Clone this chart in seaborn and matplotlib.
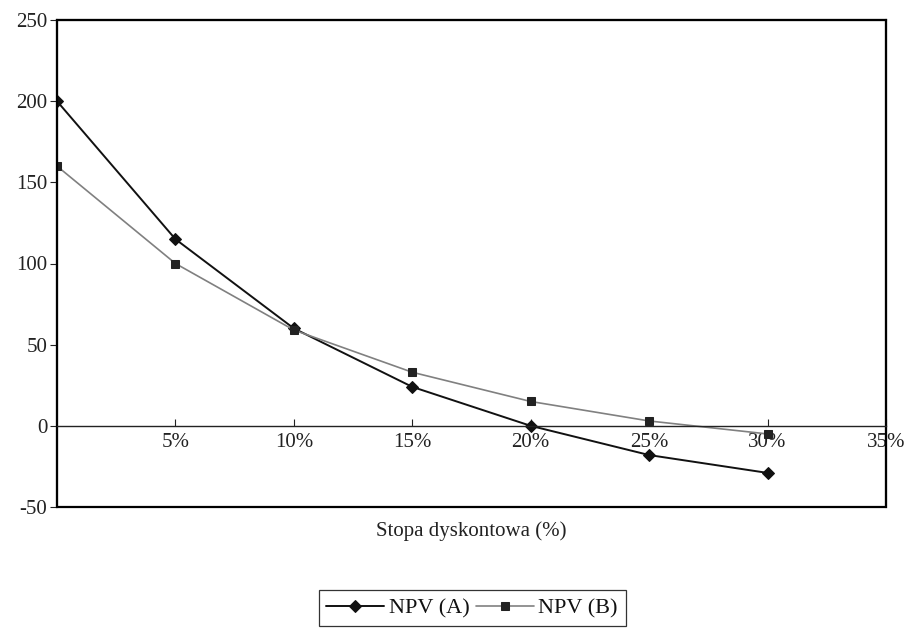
import pandas as pd
import matplotlib
matplotlib.use("Agg")
import matplotlib.pyplot as plt
import seaborn as sns

# data
rates = [0, 5, 10, 15, 20, 25, 30]
npv_a = [200, 115, 60, 24, 0, -18, -29]
npv_b = [160, 100, 59, 33, 15, 3, -5]
x_ticks = [5, 10, 15, 20, 25, 30, 35]
x_labels = ["5%", "10%", "15%", "20%", "25%", "30%", "35%"]
y_ticks = [-50, 0, 50, 100, 150, 200, 250]

sns.set_theme(style="white")
plt.rcParams['font.family'] = ['Liberation Serif', 'DejaVu Serif']
plt.rcParams['axes.unicode_minus'] = False

df = pd.DataFrame({"rate": rates, "NPV (A)": npv_a, "NPV (B)": npv_b})

fig = plt.figure(figsize=(9.08, 6.28), dpi=100)
ax = fig.add_axes([57/908, (628-507)/628, (886-57)/908, (507-20)/628])

sns.lineplot(data=df, x="rate", y="NPV (A)", ax=ax, color="#111111", lw=1.4,
             marker="D", markersize=6.5, markeredgecolor="#111111", label="NPV (A)")
sns.lineplot(data=df, x="rate", y="NPV (B)", ax=ax, color="#808080", lw=1.2,
             marker="s", markersize=6, markerfacecolor="#222222",
             markeredgecolor="#222222", label="NPV (B)")

ax.set_xlim(0, 35)
ax.set_ylim(-50, 250)

# frame around the plot, x axis running through zero
for s in ["top", "right", "left"]:
    ax.spines[s].set_color("black")
    ax.spines[s].set_linewidth(1.5)
ax.spines["bottom"].set_position(("data", 0))
ax.spines["bottom"].set_color("#222222")
ax.spines["bottom"].set_linewidth(1.0)
ax.patch.set_edgecolor("black")
ax.patch.set_linewidth(1.6)

ax.set_xticks(x_ticks)
ax.set_xticklabels(x_labels)
ax.set_yticks(y_ticks)
ax.tick_params(axis="x", direction="in", length=5, width=0.8, colors="#222222",
               labelsize=15, pad=5, bottom=True)
ax.tick_params(axis="y", direction="out", length=5, width=0.8, colors="#222222",
               labelsize=15, pad=2, left=True)

ax.set_ylabel("")
ax.set_xlabel("Stopa dyskontowa (%)", fontsize=15, color="#222222")
ax.xaxis.set_label_coords(0.5, -0.03)

ax.legend_.remove()
handles, labels = ax.get_legend_handles_labels()
leg = fig.legend(handles, labels, loc="lower center", bbox_to_anchor=(0.52, -0.015),
                 ncol=2, frameon=True, fontsize=16, handlelength=2.6,
                 columnspacing=0.3, handletextpad=0.2, borderpad=0.35,
                 fancybox=False, edgecolor="black", labelcolor="#111111")
leg.get_frame().set_linewidth(0.9)

fig.savefig("out.png", dpi=100)
